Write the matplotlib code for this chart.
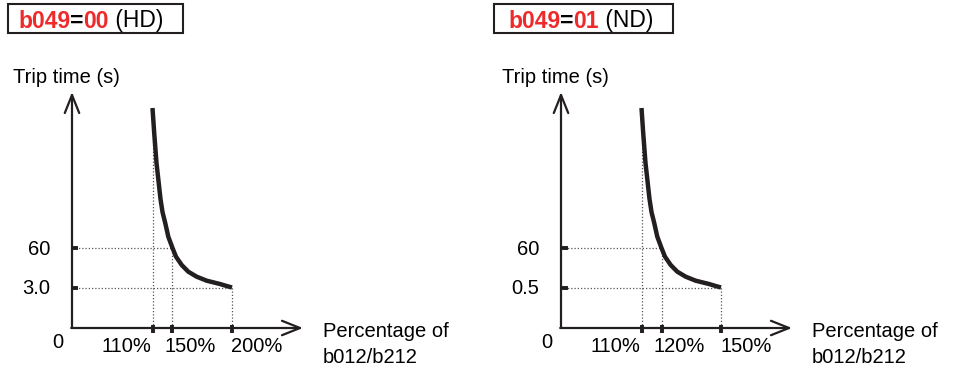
import matplotlib
matplotlib.use("Agg")
import matplotlib.pyplot as plt
from matplotlib.patches import Rectangle
from matplotlib.offsetbox import TextArea, HPacker, AnchoredOffsetbox

plt.rcParams['font.family'] = ['Liberation Sans', 'DejaVu Sans']

# schematic positions (diagram units) of the curve
curve_x = [8.05, 8.22, 8.45, 8.85, 9.05, 9.33, 9.63, 10.05, 10.4, 10.97,
           11.63, 12.47, 13.47, 14.8, 15.4, 16.0]
curve_y = [22.0, 19.5, 16.5, 12.9, 11.6, 10.47, 9.13, 8.0, 7.13, 6.3,
           5.63, 5.13, 4.73, 4.4, 4.22, 4.05]

x_tick_pos = [8.1, 10.05, 16.0]
y_tick_pos = [8.0, 4.05]

# panel contents
titles = [("b049", "=", "00", " (HD)"), ("b049", "=", "01", " (ND)")]
x_labels = [["110%", "150%", "200%"], ["110%", "120%", "150%"]]
y_labels = [["60", "3.0"], ["60", "0.5"]]
y_name = "Trip time (s)"
x_name = "Percentage of\nb012/b212"

RED = "#ee2a2a"
INK = "#231f20"
FS = 14.5

fig = plt.figure(figsize=(9.54, 3.70), dpi=100)
W, H = 954, 370

panels = [(0, 477, 8, 183, 18), (489, 465, 494, 673, 508)]
label_x_centres = [5.4, 11.8, 18.5]

for i, (left, width, bx0, bx1, tx) in enumerate(panels):
    ax = fig.add_axes([left / W, 0, width / W, 1])
    ax.set_xlim(-7.2, -7.2 + width / 10)
    ax.set_ylim(-4.2, 32.8)
    ax.axis('off')

    # dotted guides
    dot = dict(color="#555555", lw=0.9, linestyle=(0, (1, 1.6)))
    ax.plot([x_tick_pos[0], x_tick_pos[0]], [0, curve_y[0]], **dot)
    ax.plot([x_tick_pos[1], x_tick_pos[1]], [0, y_tick_pos[0]], **dot)
    ax.plot([x_tick_pos[2], x_tick_pos[2]], [0, y_tick_pos[1]], **dot)
    ax.plot([0, x_tick_pos[1]], [y_tick_pos[0], y_tick_pos[0]], **dot)
    ax.plot([0, x_tick_pos[2]], [y_tick_pos[1], y_tick_pos[1]], **dot)

    # axes with open arrow heads
    arrow = dict(arrowstyle='->,head_length=1.0,head_width=0.4', lw=1.6,
                 color=INK, shrinkA=0, shrinkB=0, mutation_scale=13)
    ax.annotate("", xy=(0, 23.6), xytext=(0, 0), arrowprops=arrow)
    ax.annotate("", xy=(23.1, 0), xytext=(-0.08, 0), arrowprops=arrow)

    # ticks
    ax.vlines(x_tick_pos, -0.45, 0.35, color=INK, lw=2.8)
    ax.hlines(y_tick_pos, 0, 0.65, color=INK, lw=2.8)

    # curve
    ax.plot(curve_x, curve_y, color=INK, lw=3.2, solid_capstyle='butt',
            solid_joinstyle='round')

    # tick labels
    for xc, lab in zip(label_x_centres, x_labels[i]):
        ax.text(xc, -2.4, lab, ha='center', va='baseline', fontsize=FS, color='black')
    for yv, lab in zip(y_tick_pos, y_labels[i]):
        ax.text(-2.2, yv - 0.7, lab, ha='right', va='baseline', fontsize=FS, color='black')
    ax.text(-1.4, -2.0, "0", ha='center', va='baseline', fontsize=FS, color='black')

    ax.text(-5.9, 24.5, y_name, ha='left', va='baseline', fontsize=FS, color='black')
    ax.text(25.1, -3.5, x_name, ha='left', va='baseline', fontsize=FS,
            color='black', linespacing=1.45)

    # title box
    fig.add_artist(Rectangle((bx0 / W, 1 - 33 / H), (bx1 - bx0) / W, 29 / H,
                             transform=fig.transFigure, fill=False,
                             edgecolor=INK, lw=1.5))
    t = titles[i]
    parts = [TextArea(t[0], textprops=dict(color=RED, fontweight='bold', size=16.5)),
             TextArea(t[1], textprops=dict(color='black', fontweight='bold', size=16.5)),
             TextArea(t[2], textprops=dict(color=RED, fontweight='bold', size=16.5)),
             TextArea(t[3], textprops=dict(color='black', size=16.5))]
    pack = HPacker(children=parts, align='baseline', pad=0, sep=0)
    anc = AnchoredOffsetbox(loc='center left', child=pack, pad=0, borderpad=0,
                            frameon=False, bbox_to_anchor=(tx / W, 1 - 21 / H),
                            bbox_transform=fig.transFigure)
    fig.add_artist(anc)

fig.savefig("out.png", dpi=100)
